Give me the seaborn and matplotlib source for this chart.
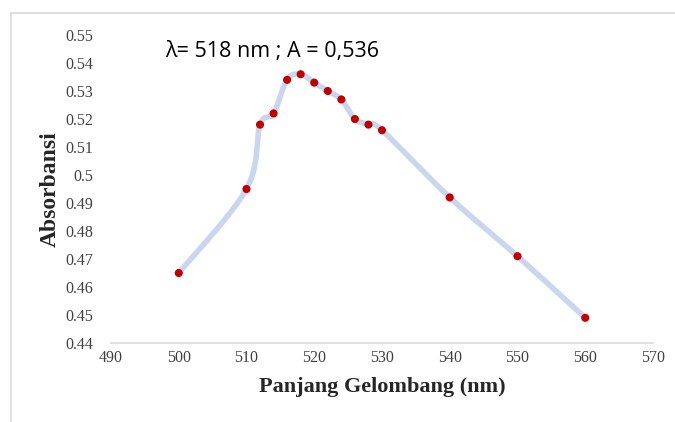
import numpy as np
import pandas as pd
import seaborn as sns
import matplotlib.pyplot as plt
from matplotlib.lines import Line2D

# data
wavelength = [500, 510, 512, 514, 516, 518, 520, 522, 524, 526, 528, 530, 540, 550, 560]
absorbance = [0.465, 0.495, 0.518, 0.522, 0.534, 0.536, 0.533, 0.530, 0.527,
              0.520, 0.518, 0.516, 0.492, 0.471, 0.449]
x_ticks = [490, 500, 510, 520, 530, 540, 550, 560, 570]
y_ticks = [0.44, 0.45, 0.46, 0.47, 0.48, 0.49, 0.50, 0.51, 0.52, 0.53, 0.54, 0.55]
y_labels = ["0.44", "0.45", "0.46", "0.47", "0.48", "0.49", "0.5", "0.51",
            "0.52", "0.53", "0.54", "0.55"]


# Excel-style smoothed line (Catmull-Rom as cubic bezier)
def smooth(xs, ys, n=30):
    p = np.column_stack([xs, ys]).astype(float)
    p = np.vstack([p[0], p, p[-1]])
    out = []
    t = np.linspace(0, 1, n)[:, None]
    for i in range(1, len(p) - 2):
        p0, p1, p2, p3 = p[i - 1], p[i], p[i + 1], p[i + 2]
        c1 = p1 + (p2 - p0) / 6
        c2 = p2 - (p3 - p1) / 6
        seg = ((1 - t) ** 3) * p1 + 3 * ((1 - t) ** 2) * t * c1 \
            + 3 * (1 - t) * t ** 2 * c2 + t ** 3 * p2
        out.append(seg if i == 1 else seg[1:])
    return np.vstack(out)


curve = smooth(wavelength, absorbance)
df_pts = pd.DataFrame({"x": wavelength, "y": absorbance})
df_curve = pd.DataFrame({"x": curve[:, 0], "y": curve[:, 1]})

sns.set_style("white")
plt.rcParams["font.family"] = ["Liberation Serif", "DejaVu Serif"]

fig = plt.figure(figsize=(6.75, 4.22), dpi=100)
ax = fig.add_axes([0.1644, 0.1872, 0.803, 0.7298])

sns.lineplot(data=df_curve, x="x", y="y", sort=False, color="#C9D6EE",
             linewidth=4, ax=ax, zorder=2)
sns.scatterplot(data=df_pts, x="x", y="y", color="#C00000", s=34,
                edgecolor="none", ax=ax, zorder=3)

ax.set_xlim(490, 570)
ax.set_ylim(0.44, 0.55)
ax.set_xticks(x_ticks)
ax.set_yticks(y_ticks)
ax.set_yticklabels(y_labels)
ax.tick_params(axis="both", length=0, labelsize=11.5, colors="#404040")
ax.tick_params(axis="y", pad=13)
ax.tick_params(axis="x", pad=5)

for side in ["top", "right", "left"]:
    ax.spines[side].set_visible(False)
ax.spines["bottom"].set_color("#D9D9D9")
ax.spines["bottom"].set_linewidth(1.2)

ax.set_xlabel("Panjang Gelombang (nm)", fontsize=16, fontweight="bold", labelpad=8)
ax.set_ylabel("Absorbansi", fontsize=17, fontweight="bold", labelpad=3)

ax.text(0.1, 0.945, "λ= 518 nm ; A = 0,536", transform=ax.transAxes,
        fontsize=15.5, family=["Open Sans", "DejaVu Sans"], color="black",
        ha="left", va="center")

# chart frame border (cropped)
fig.add_artist(Line2D([10.5 / 675, 10.5 / 675], [0, 1 - 13 / 422],
                      transform=fig.transFigure, color="#D9D9D9", linewidth=1.2))
fig.add_artist(Line2D([10.5 / 675, 1], [1 - 13 / 422, 1 - 13 / 422],
                      transform=fig.transFigure, color="#D9D9D9", linewidth=1.2))

fig.savefig("out.png", dpi=100)
